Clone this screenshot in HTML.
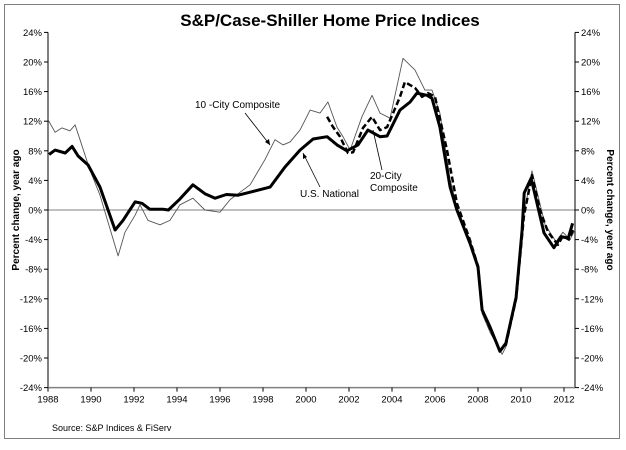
<!DOCTYPE html>
<html><head><meta charset="utf-8"><style>
html,body{margin:0;padding:0;background:#fff;}
svg text{font-family:"Liberation Sans",Arial,sans-serif;}
</style></head><body>
<svg id="chart" width="626" height="445" viewBox="0 0 626 445" xmlns="http://www.w3.org/2000/svg">
<rect x="4.5" y="4.5" width="615" height="434" fill="#fff" stroke="#808080" stroke-width="1"/>
<text x="330" y="26" font-size="17" font-weight="bold" text-anchor="middle">S&amp;P/Case-Shiller Home Price Indices</text>
<g id="axes"></g>
<g id="series"></g>
<text transform="translate(19,210) rotate(-90)" font-size="10" font-weight="bold" text-anchor="middle">Percent change, year ago</text>
<text transform="translate(607,210) rotate(90)" font-size="10" font-weight="bold" text-anchor="middle">Percent change, year ago</text>
<text x="195" y="108" font-size="10">10 -City Composite</text>
<line x1="245" y1="113" x2="270" y2="145" stroke="#000" stroke-width="0.8"/>
<path d="M270,145 l-1,-6 l-4,3 z" fill="#000"/>
<text x="300" y="197" font-size="10">U.S. National</text>
<line x1="320" y1="187" x2="303" y2="153" stroke="#000" stroke-width="0.8"/>
<path d="M303,153 l0,6 l4,-2 z" fill="#000"/>
<text x="370" y="179" font-size="10">20-City</text>
<text x="370" y="191" font-size="10">Composite</text>
<line x1="382" y1="170" x2="373" y2="130" stroke="#000" stroke-width="0.8"/>
<text x="52" y="431" font-size="9">Source: S&amp;P Indices &amp; FiServ</text>
</svg>
<script>
const yTicks=[24,20,16,12,8,4,0,-4,-8,-12,-16,-20,-24];
const xTicks=[1988,1990,1992,1994,1996,1998,2000,2002,2004,2006,2008,2010,2012];
const natYears=[1988.05,1988.33,1988.8,1989.12,1989.4,1989.86,1990.42,1991.12,1991.49,1992.05,1992.37,1992.74,1993.35,1993.6,1994.14,1994.74,1995.3,1995.77,1996.3,1996.84,1997.4,1998.33,1999.02,1999.72,2000.33,2000.98,2001.44,2001.9,2002.42,2002.88,2003.44,2003.77,2004.37,2004.84,2005.16,2005.63,2005.86,2006.23,2006.7,2007.02,2007.63,2008.0,2008.19,2008.56,2009.02,2009.3,2009.77,2010.05,2010.15,2010.47,2011.07,2011.53,2011.86,2012.2,2012.4];
const natVals=[7.5,8.1,7.7,8.6,7.3,6.1,3.1,-2.7,-1.4,1.1,0.9,0.1,0.1,0,1.5,3.4,2.2,1.6,2.1,2.0,2.4,3.1,5.8,8.1,9.6,9.9,8.8,8.0,8.8,10.8,9.9,10.0,13.5,14.6,15.8,15.5,15.1,11.2,3.1,0,-4.5,-7.7,-13.5,-15.8,-19.1,-18,-11.8,-2.7,2.3,4.3,-3.1,-5.1,-3.6,-3.8,-1.8];
const tenYears=[1988,1988.33,1988.65,1989.02,1989.26,1989.49,1989.95,1990.42,1991.26,1991.58,1992.05,1992.28,1992.65,1993.21,1993.67,1994.14,1994.74,1995.3,1996,1996.47,1997.4,1998.09,1998.56,1998.93,1999.26,1999.72,2000.19,2000.65,2001.02,2001.44,2001.72,2002.05,2002.6,2003.07,2003.44,2003.91,2004.51,2005.07,2005.53,2005.86,2006.23,2006.7,2007.07,2007.63,2008.0,2008.19,2008.56,2009.12,2009.3,2009.77,2010.14,2010.51,2011.12,2011.63,2011.95,2012.28,2012.51];
const tenVals=[12.2,10.5,11.1,10.7,11.5,9.5,5.4,2.0,-6.2,-3,-0.7,0.7,-1.4,-2,-1.4,0.7,1.6,0,-0.3,1.4,3.4,6.8,9.5,8.8,9.2,10.8,13.5,13.1,14.6,11.2,9.9,8.1,12.6,15.5,13.1,12.4,20.5,18.9,16.2,16.2,13.1,4.1,-0.3,-4.5,-8,-14,-16.5,-19.5,-18.5,-11.5,-0.5,5.3,-2.0,-4.3,-3.0,-4.0,-2.7];
const twYears=[2000.98,2001.26,2001.58,2001.95,2002.19,2002.65,2003.07,2003.44,2003.77,2004.37,2004.6,2005.07,2005.4,2005.67,2006.0,2006.56,2007.02,2007.63,2008.0,2008.19,2008.56,2009.02,2009.3,2009.77,2010.14,2010.51,2010.88,2011.26,2011.72,2011.95,2012.23,2012.46];
const twVals=[12.6,11.2,9.9,7.7,7.8,11.1,12.6,10.8,11.2,15.3,17.3,16.5,15.3,15.8,15.3,8.1,0.9,-4.1,-7.6,-13.5,-16,-19.0,-18.2,-12,-0.7,4.7,0,-3.0,-4.7,-3.5,-4.0,-2.4];

const X0=48,XW=21.5,Y0=210,YS=7.4;
const xs=y=>X0+(y-1988)*XW;
const ys=v=>Y0-v*YS;
const NS="http://www.w3.org/2000/svg";
const axes=document.getElementById('axes'), series=document.getElementById('series');
function mk(tag,attrs,parent){const e=document.createElementNS(NS,tag);for(const k in attrs)e.setAttribute(k,attrs[k]);parent.appendChild(e);return e;}
const L=X0,R=575,T=ys(24),B=ys(-24);
const zl=mk('line',{x1:L,x2:R,y1:ys(0),y2:ys(0),stroke:'#808080','stroke-width':1},axes);


const la=mk('line',{x1:L,x2:L,y1:T,y2:B,stroke:'#000','stroke-width':1},axes);


const ra=mk('line',{x1:R,x2:R,y1:T,y2:B,stroke:'#000','stroke-width':1},axes);


const xa=mk('line',{x1:L,x2:R,y1:B,y2:B,stroke:'#808080','stroke-width':1.5},axes);


yTicks.forEach(v=>{
  const y=ys(v);
  mk('line',{x1:L-4,x2:L,y1:y,y2:y,stroke:'#000'},axes);
  mk('line',{x1:R,x2:R+4,y1:y,y2:y,stroke:'#000'},axes);
  const t1=mk('text',{x:L-6,y:y+3.5,'font-size':9.5,'text-anchor':'end'},axes);t1.textContent=v+'%';
  
  
  const t2=mk('text',{x:R+6,y:y+3.5,'font-size':9.5},axes);t2.textContent=v+'%';
  
  
});
xTicks.forEach(yr=>{
  const x=xs(yr);
  mk('line',{x1:x,x2:x,y1:B,y2:B+4,stroke:'#000'},axes);
  const t=mk('text',{x:x,y:B+15,'font-size':9.5,'text-anchor':'middle'},axes);t.textContent=yr;
  
  
});
function line(yrs,vals,attrs,name){
  const d=yrs.map((y,i)=>(i?'L':'M')+xs(y).toFixed(1)+','+ys(vals[i]).toFixed(1)).join('');
  const p=mk('path',Object.assign({d:d,fill:'none','stroke-linejoin':'round'},attrs),series);
  
  
}
line(tenYears,tenVals,{stroke:'#555','stroke-width':0.9},'series-10-city');
line(twYears,twVals,{stroke:'#000','stroke-width':2.5,'stroke-dasharray':'6,3'},'series-20-city');
line(natYears,natVals,{stroke:'#000','stroke-width':3},'series-us-national');
</script>
</body></html>
